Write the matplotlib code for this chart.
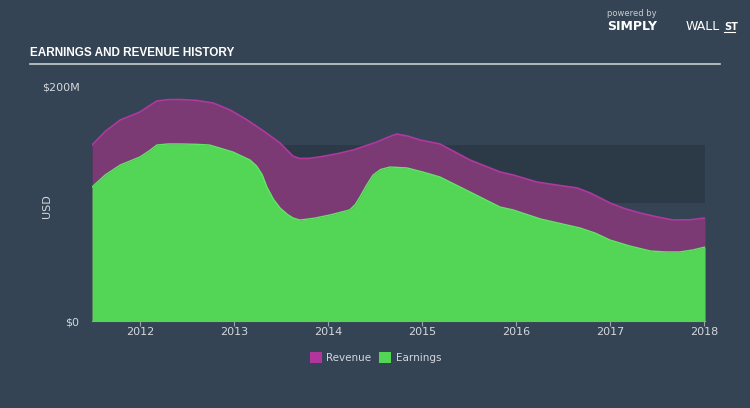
import numpy as np
import matplotlib.pyplot as plt
from matplotlib.patches import Rectangle

# (decimal year, $M)
rev_t = [2011.49, 2011.63, 2011.79, 2012.0, 2012.1, 2012.18, 2012.3, 2012.43, 2012.6, 2012.78,
         2012.96, 2013.14, 2013.33, 2013.49, 2013.57, 2013.63, 2013.70, 2013.8, 2013.91,
         2014.1, 2014.27, 2014.52, 2014.63, 2014.73, 2014.85, 2014.98, 2015.19, 2015.35,
         2015.51, 2015.83, 2015.97, 2016.22, 2016.45, 2016.65, 2016.79, 2017.0, 2017.15,
         2017.32, 2017.5, 2017.67, 2017.85, 2018.01]
revenue = [150.4, 162.0, 171.8, 178.6, 184.0, 188.0, 189.2, 189.3, 188.5, 186.3,
           180.3, 171.8, 161.5, 152.1, 145.5, 140.8, 138.9, 139.0, 140.2,
           143.0, 146.2, 153.0, 156.8, 159.8, 158.0, 154.7, 151.3, 144.5,
           137.6, 127.4, 124.8, 118.8, 116.0, 113.7, 109.4, 100.9, 96.2,
           92.3, 89.0, 86.3, 86.5, 88.0]

earn_t = [2011.49, 2011.63, 2011.79, 2012.0, 2012.1, 2012.18, 2012.3, 2012.43, 2012.6, 2012.74,
          2012.99, 2013.17, 2013.24, 2013.30, 2013.35, 2013.42, 2013.49, 2013.57, 2013.63,
          2013.70, 2013.85, 2014.02, 2014.23, 2014.29, 2014.34, 2014.41, 2014.48, 2014.56,
          2014.66, 2014.84, 2015.0, 2015.19, 2015.51, 2015.83, 2015.97, 2016.26, 2016.68,
          2016.84, 2017.0, 2017.21, 2017.43, 2017.6, 2017.74, 2017.88, 2018.01]
earnings = [114.5, 124.8, 133.3, 140.2, 145.5, 150.4, 151.3, 151.3, 151.0, 150.4,
            144.4, 137.6, 132.5, 125.0, 114.5, 104.0, 96.6, 91.0, 88.0,
            86.3, 87.8, 90.6, 94.9, 99.5, 106.0, 116.0, 124.8, 129.5,
            131.6, 130.8, 127.5, 123.1, 110.3, 97.4, 94.9, 87.2, 79.5,
            75.2, 69.2, 64.1, 59.8, 59.0, 59.0, 60.7, 63.2]

years = [2012, 2013, 2014, 2015, 2016, 2017, 2018]
band = [101, 150]   # darker shaded range behind the chart

bg = '#344454'
txt = '#d4d8dc'

fig = plt.figure(figsize=(7.5, 4.08), dpi=100, facecolor=bg)
ax = fig.add_axes([0.1227, 0.2132, 0.8173, 0.5736], facecolor=bg)

x0, x1 = rev_t[0], rev_t[-1]
ax.add_patch(Rectangle((x0, band[0]), x1 - x0, band[1] - band[0],
                       facecolor='#2c3a48', edgecolor='none', zorder=0))

ax.fill_between(rev_t, 0, revenue, color='#7b3a74', zorder=1, linewidth=0)
ax.plot(rev_t, revenue, color='#b0389f', lw=1.2, zorder=2)
ax.fill_between(earn_t, 0, earnings, color='#53d655', zorder=3, linewidth=0)
ax.plot(earn_t, earnings, color='#5ee862', lw=1.0, zorder=4)

ax.set_xlim(x0, x1)
ax.set_ylim(0, 200)
for s in ['top', 'right', 'left']:
    ax.spines[s].set_visible(False)
ax.spines['bottom'].set_color('#9aa3ab')
ax.spines['bottom'].set_linewidth(0.8)

ax.set_xticks(years)
ax.set_xticklabels([str(y) for y in years])
ax.set_yticks([0, 200])
ax.set_yticklabels(['$0', '$200M'])
ax.tick_params(axis='x', colors='#9aa3ab', labelcolor=txt, labelsize=8, length=3.6, width=0.8, pad=1)
ax.tick_params(axis='y', length=0, labelcolor=txt, labelsize=8, pad=9)
ax.set_ylabel('USD', color=txt, fontsize=8)
ax.yaxis.set_label_coords(-0.065, 0.49)

# title + rule
fig.text(30 / 750, 1 - 53 / 408, 'EARNINGS AND REVENUE HISTORY', color='white', fontsize=8.5,
         fontweight='bold', family=['Liberation Sans Narrow', 'Liberation Sans', 'DejaVu Sans'],
         va='center')
fig.add_artist(plt.Line2D([30 / 750, 720 / 750], [1 - 64 / 408] * 2, color='#c8ccd0', lw=1.2))

# logo text
fig.text(607 / 750, 1 - 14 / 408, 'powered by', color='#c8ccd0', fontsize=6, va='center')
fig.text(607 / 750, 1 - 27 / 408, 'SIMPLY', color='white', fontsize=9, fontweight='bold', va='center')
fig.text(686 / 750, 1 - 27 / 408, 'WALL', color='white', fontsize=9, va='center')
fig.text(724 / 750, 1 - 27 / 408, 'ST', color='white', fontsize=7, fontweight='bold', va='center')
fig.add_artist(plt.Line2D([724 / 750, 735 / 750], [1 - 32 / 408] * 2, color='white', lw=0.8))

# legend
fig.add_artist(Rectangle((310 / 750, 1 - 363 / 408), 12 / 750, 11 / 408, transform=fig.transFigure,
                         facecolor='#b0369e', edgecolor='none'))
fig.text(326 / 750, 1 - 358 / 408, 'Revenue', color=txt, fontsize=7.5, va='center')
fig.add_artist(Rectangle((379 / 750, 1 - 363 / 408), 12 / 750, 11 / 408, transform=fig.transFigure,
                         facecolor='#53d655', edgecolor='none'))
fig.text(396 / 750, 1 - 358 / 408, 'Earnings', color=txt, fontsize=7.5, va='center')

fig.savefig('out.png', dpi=100, facecolor=bg)
